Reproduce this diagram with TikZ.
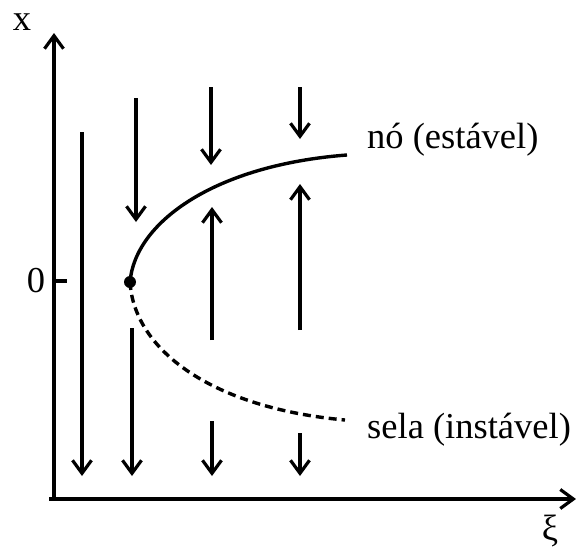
\documentclass[tikz,border=0pt]{standalone}
\usepackage{fontspec}
\setmainfont{Liberation Serif}
\usetikzlibrary{arrows.meta}
\begin{document}
\begin{tikzpicture}[x=1pt,y=-1pt,
  ln/.style={line width=3.4pt},
  flow/.style={ln,-{Straight Barb[length=13pt,width=19pt,line width=3.2pt]}},
  axis/.style={ln,-{Straight Barb[length=13pt,width=19pt,line width=3.2pt]}},
  lbl/.style={font=\fontsize{36.5}{40}\selectfont,inner sep=0pt}]
\useasboundingbox (0,0) rectangle (576,549);
% axes
\coordinate (O) at (54,499);
\coordinate (Ytop) at (54,33);
\coordinate (Xend) at (576,499);
\coordinate (Xstart) at (49,499);
\draw[axis] (O) -- (Ytop);
\draw[axis] (Xstart) -- (Xend);
\coordinate (t0) at (54,281);
\coordinate (t1) at (67,281);
\draw[ln] (t0) -- (t1);
\node[lbl] (xl) at (22,22) {x};
\node[lbl] (zl) at (36,281) {0};
\node[lbl] (xil) at (550,531) {ξ};
% curve
\coordinate (V) at (130,282);
\coordinate (U) at (347,155);
\coordinate (L) at (345,420);
\draw[ln] (V) .. controls (135,222) and (215,165) .. (U);
\draw[ln,dash pattern=on 8pt off 5pt] (V) .. controls (134,350) and (212,408) .. (L);
\fill (V) circle (6pt);
\node[lbl,anchor=base west] (nl) at (367,148) {nó (estável)};
\node[lbl,anchor=base west] (sl) at (367,438) {sela (instável)};
% flow arrows
\coordinate (a1s) at (82,132); \coordinate (a1e) at (82,476);
\coordinate (a2s) at (136,98); \coordinate (a2e) at (136,222);
\coordinate (a3s) at (132,328); \coordinate (a3e) at (132,476);
\coordinate (b1s) at (211,87); \coordinate (b1e) at (211,165);
\coordinate (b2s) at (212,340); \coordinate (b2e) at (212,207);
\coordinate (b3s) at (212,421); \coordinate (b3e) at (212,476);
\coordinate (c1s) at (300,87); \coordinate (c1e) at (300,139);
\coordinate (c2s) at (300,330); \coordinate (c2e) at (300,184);
\coordinate (c3s) at (300,433); \coordinate (c3e) at (300,476);
\foreach \p in {a1,a2,a3,b1,b2,b3,c1,c2,c3}{
  \draw[flow] (\p s) -- (\p e);
}
\end{tikzpicture}
\end{document}
